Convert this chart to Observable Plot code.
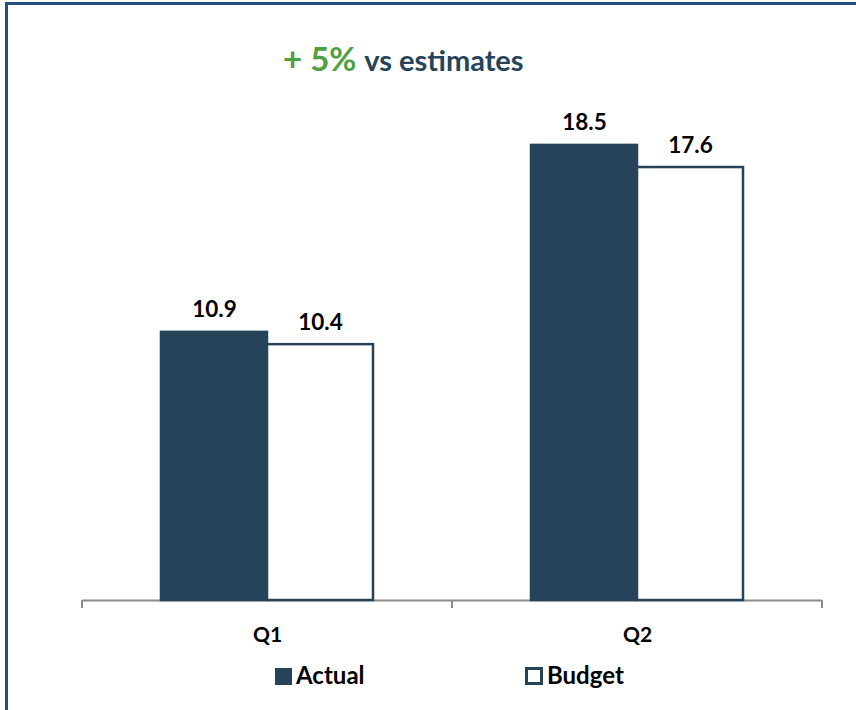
<!DOCTYPE html>
<html>
<head>
<meta charset="utf-8">
<script src="https://cdn.jsdelivr.net/npm/d3@7"></script>
<script src="https://cdn.jsdelivr.net/npm/@observablehq/plot@0.6"></script>
<style>
  html, body { margin: 0; padding: 0; background: #fff; }
  #wrap { position: relative; width: 856px; height: 710px; overflow: hidden; font-family: Lato, "Open Sans", sans-serif; }
  #frame { position: absolute; left: 5px; top: 2px; width: 860px; height: 720px; border-top: 3px solid #24507f; border-left: 3px solid #24507f; box-sizing: border-box; }
  #title { position: absolute; left: 283px; top: 38px; white-space: nowrap; font-weight: 700; }
  #title .pct { color: #4fa03e; font-size: 33px; margin-right: 4px; }
  #title .rest { color: #264459; font-size: 29px; }
  .leg { position: absolute; top: 660px; font-weight: 700; font-size: 24px; color: #000; white-space: nowrap; line-height: 30px; }
  .sw { display: inline-block; width: 17px; height: 17px; vertical-align: -1px; margin-right: 4px; box-sizing: border-box; }
  #chart { position: absolute; left: 0; top: 0; }
</style>
</head>
<body>
<div id="wrap">
  <div id="chart"></div>
  <div id="frame"></div>
  <div id="title"><span class="pct">+ 5%</span> <span class="rest">vs estimates</span></div>
  <div class="leg" style="left:275px"><span class="sw" style="background:#264459"></span>Actual</div>
  <div class="leg" style="left:525px"><span class="sw" style="background:#fff;border:3px solid #264459;width:18px;height:18px"></span>Budget</div>
</div>
<script>
const quarters = ["Q1", "Q2"];
const series = ["Actual", "Budget"];
const actual = [10.9, 18.5];
const budget = [10.4, 17.6];

const data = [];
quarters.forEach((q, i) => {
  data.push({quarter: q, series: "Actual", value: actual[i]});
  data.push({quarter: q, series: "Budget", value: budget[i]});
});

const navy = "#264459";

const chart = Plot.plot({
  width: 856,
  height: 710,
  marginLeft: 82,
  marginRight: 34,
  marginTop: 108,
  marginBottom: 110,
  style: {fontFamily: "Lato, 'Open Sans', sans-serif", background: "transparent"},
  fx: {domain: quarters, padding: 0, axis: null},
  x: {domain: series, paddingInner: 0, paddingOuter: 0.745, axis: null},
  y: {domain: [0, 20], axis: null},
  marks: [
    Plot.ruleY([0], {stroke: "#8c8c8c", strokeWidth: 2}),
    Plot.barY(data.filter(d => d.series === "Actual"), {fx: "quarter", x: "series", y: "value", fill: navy, stroke: navy, strokeWidth: 2.5}),
    Plot.barY(data.filter(d => d.series === "Budget"), {fx: "quarter", x: "series", y: "value", fill: "white", stroke: navy, strokeWidth: 2.5}),
    Plot.text(data, {fx: "quarter", x: "series", y: "value", text: d => d.value.toFixed(1), lineAnchor: "bottom", dy: -15, fontSize: 22.5, fontWeight: "bold", fill: "#000"}),
    Plot.text(quarters, {fx: d => d, text: d => d, frameAnchor: "bottom", lineAnchor: "bottom", dy: 41, fontSize: 21, fontWeight: "bold", fill: "#000"})
  ]
});

document.getElementById("chart").appendChild(chart);

// axis ticks at the category boundaries, from the library's scales
const fx = chart.scale("fx");
const y0 = chart.scale("y").apply(0);
const edges = new Set();
fx.domain.forEach(d => { const a = fx.apply(d); edges.add(Math.round(a)); edges.add(Math.round(a + fx.bandwidth)); });
const svg = d3.select(chart);
svg.insert("g", ":first-child").selectAll("line").data([...edges]).join("line")
  .attr("x1", d => d).attr("x2", d => d)
  .attr("y1", y0).attr("y2", y0 + 8)
  .attr("stroke", "#8c8c8c").attr("stroke-width", 2);
</script>
</body>
</html>
